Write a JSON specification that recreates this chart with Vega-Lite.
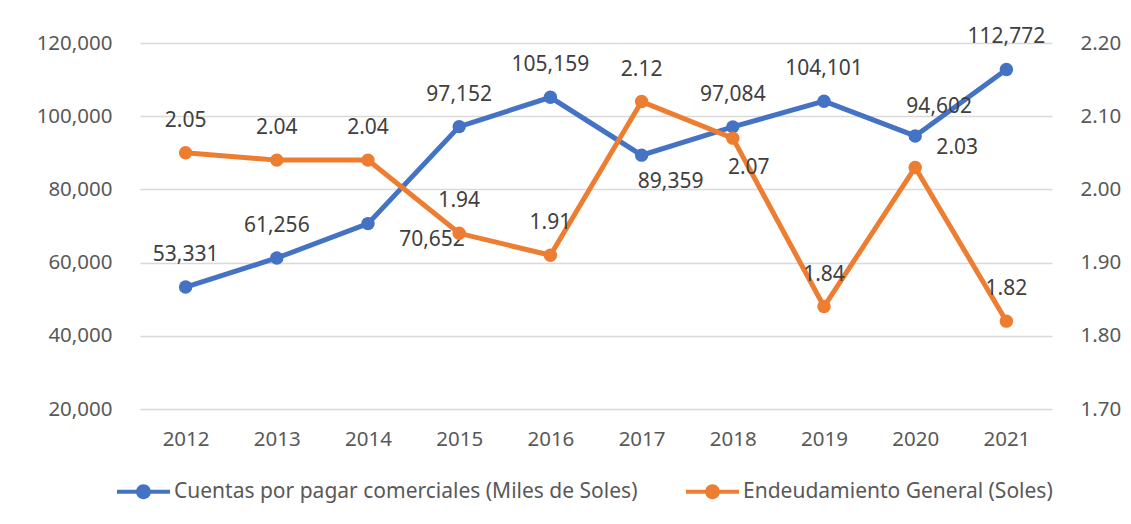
{
  "$schema": "https://vega.github.io/schema/vega-lite/v6.json",
  "width": 912,
  "height": 366,
  "autosize": "none",
  "padding": {"left": 140, "top": 43, "right": 79, "bottom": 115},
  "background": "white",
  "config": {
    "font": "Noto Sans",
    "view": {"stroke": null},
    "axis": {"labelFont": "Noto Sans", "labelFontSize": 20.5, "labelColor": "#595959", "domain": false, "ticks": false, "gridColor": "#d9d9d9", "gridWidth": 1.5, "title": null},
    "legend": {"labelFont": "Noto Sans", "labelFontSize": 21, "labelColor": "#595959", "labelLimit": 700}
  },
  "data": {
    "values": [
      {"year": "2012", "cuentas": 53331, "endeud": 2.05},
      {"year": "2013", "cuentas": 61256, "endeud": 2.04},
      {"year": "2014", "cuentas": 70652, "endeud": 2.04},
      {"year": "2015", "cuentas": 97152, "endeud": 1.94},
      {"year": "2016", "cuentas": 105159, "endeud": 1.91},
      {"year": "2017", "cuentas": 89359, "endeud": 2.12},
      {"year": "2018", "cuentas": 97084, "endeud": 2.07},
      {"year": "2019", "cuentas": 104101, "endeud": 1.84},
      {"year": "2020", "cuentas": 94602, "endeud": 2.03},
      {"year": "2021", "cuentas": 112772, "endeud": 1.82}
    ]
  },
  "encoding": {
    "x": {"field": "year", "type": "ordinal", "scale": {"type": "point", "padding": 0.5}, "axis": {"labelAngle": 0, "labelPadding": 20, "grid": false}}
  },
  "layer": [
    {
      "encoding": {
        "y": {"field": "cuentas", "type": "quantitative", "scale": {"domain": [20000, 120000], "nice": false, "zero": false}, "axis": {"orient": "left", "values": [20000, 40000, 60000, 80000, 100000, 120000], "labelExpr": "format(datum.value, ',')", "labelPadding": 28, "grid": true}}
      },
      "layer": [
        {
          "mark": {"type": "line", "strokeWidth": 5},
          "encoding": {
            "color": {"datum": "Cuentas por pagar comerciales (Miles de Soles)", "type": "nominal",
              "scale": {"domain": ["Cuentas por pagar comerciales (Miles de Soles)", "Endeudamiento General (Soles)"], "range": ["#4472C4", "#ED7D31"]},
              "legend": {"orient": "none", "legendX": -23, "legendY": 422, "direction": "horizontal", "title": null,
                "symbolType": "M-1,-0.08L1,-0.08L1,0.08L-1,0.08Z M0.28,0A0.28,0.28,0,1,1,-0.28,0A0.28,0.28,0,1,1,0.28,0Z",
                "symbolSize": 2809, "columnPadding": 48, "labelOffset": 4, "symbolStrokeWidth": 0, "labelLimit": 700,
                "encode": {"symbols": {"update": {"fill": {"scale": "color", "field": "value"}, "stroke": {"value": "transparent"}, "opacity": {"value": 1}}}}}
            }
          }
        },
        {"mark": {"type": "point", "filled": true, "size": 180, "opacity": 1, "color": "#4472C4"}},
        {
          "transform": [{"filter": "indexof(['2012','2013','2015','2016','2018','2019','2021'], datum.year) >= 0"}],
          "mark": {"type": "text", "fontSize": 21, "color": "#404040", "dy": -32, "baseline": "middle"},
          "encoding": {"text": {"field": "cuentas", "type": "quantitative", "format": ","}}
        },
        {
          "transform": [{"filter": "datum.year == '2014'"}],
          "mark": {"type": "text", "fontSize": 21, "color": "#404040", "dx": 64, "dy": 16, "baseline": "middle"},
          "encoding": {"text": {"field": "cuentas", "type": "quantitative", "format": ","}}
        },
        {
          "transform": [{"filter": "datum.year == '2017'"}],
          "mark": {"type": "text", "fontSize": 21, "color": "#404040", "dx": 29, "dy": 27, "baseline": "middle"},
          "encoding": {"text": {"field": "cuentas", "type": "quantitative", "format": ","}}
        },
        {
          "transform": [{"filter": "datum.year == '2020'"}],
          "mark": {"type": "text", "fontSize": 21, "color": "#404040", "dx": 24, "dy": -29, "baseline": "middle"},
          "encoding": {"text": {"field": "cuentas", "type": "quantitative", "format": ","}}
        }
      ]
    },
    {
      "encoding": {
        "y": {"field": "endeud", "type": "quantitative", "scale": {"domain": [1.7, 2.2], "nice": false, "zero": false}, "axis": {"orient": "right", "values": [1.7, 1.8, 1.9, 2.0, 2.1, 2.2], "labelExpr": "format(datum.value, '.2f')", "labelPadding": 28, "grid": false}}
      },
      "layer": [
        {
          "mark": {"type": "line", "strokeWidth": 5},
          "encoding": {"color": {"datum": "Endeudamiento General (Soles)", "type": "nominal"}}
        },
        {"mark": {"type": "point", "filled": true, "size": 180, "opacity": 1, "color": "#ED7D31"}},
        {
          "transform": [{"filter": "indexof(['2012','2013','2014','2015','2016','2017','2019','2021'], datum.year) >= 0"}],
          "mark": {"type": "text", "fontSize": 21, "color": "#404040", "dy": -32, "baseline": "middle"},
          "encoding": {"text": {"field": "endeud", "type": "quantitative", "format": ".2f"}}
        },
        {
          "transform": [{"filter": "datum.year == '2018'"}],
          "mark": {"type": "text", "fontSize": 21, "color": "#404040", "dx": 16, "dy": 30, "baseline": "middle"},
          "encoding": {"text": {"field": "endeud", "type": "quantitative", "format": ".2f"}}
        },
        {
          "transform": [{"filter": "datum.year == '2020'"}],
          "mark": {"type": "text", "fontSize": 21, "color": "#404040", "dx": 42, "dy": -19, "baseline": "middle"},
          "encoding": {"text": {"field": "endeud", "type": "quantitative", "format": ".2f"}}
        }
      ]
    }
  ],
  "resolve": {"scale": {"y": "independent"}}
}
